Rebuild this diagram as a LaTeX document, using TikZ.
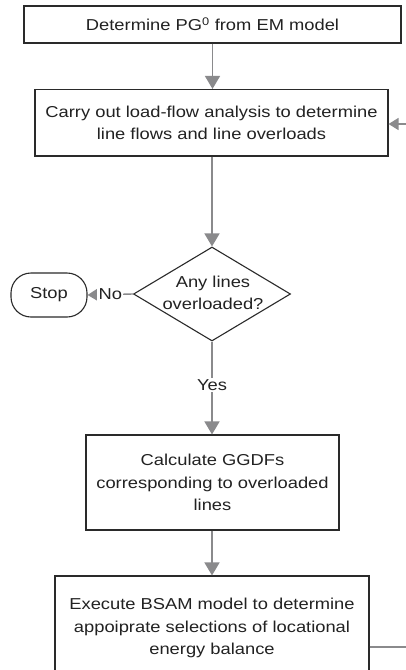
\documentclass[tikz,border=0pt]{standalone}
\usepackage{fontspec}
\setmainfont[FakeStretch=1.16]{Liberation Sans}
\usetikzlibrary{arrows.meta,shapes.geometric}
\definecolor{arrowgray}{HTML}{8A8A8C}
\definecolor{boxline}{HTML}{2A2A2A}
\definecolor{txt}{HTML}{222222}
\begin{document}
\begin{tikzpicture}[x=1pt,y=-1pt,
  every node/.style={font=\fontsize{15.8}{22.5}\selectfont, text=txt},
  procbox/.style={draw=boxline, line width=1.1pt, rectangle, align=center, inner sep=0pt},
  decbox/.style={draw=boxline, line width=1.1pt, diamond, inner sep=0pt, minimum width=157pt, minimum height=94pt},
  termbox/.style={draw=boxline, line width=1.1pt, rectangle, rounded corners=20pt, inner sep=0pt, minimum width=76pt, minimum height=44pt},
  flow/.style={draw=arrowgray, line width=1.4pt, -{Triangle[width=15pt,length=13pt]}},
  flowsmall/.style={draw=arrowgray, line width=1.4pt, -{Triangle[width=12pt,length=10pt]}},
  plain/.style={draw=arrowgray, line width=1.4pt},
  lbl/.style={fill=white, inner sep=1.5pt}
]
\useasboundingbox (0,0) rectangle (406,670);
\clip (0,0) rectangle (406,670);
\fill[white] (0,0) rectangle (406,670);

\node[procbox, minimum width=377pt, minimum height=37pt] (b1) at (212.5,24.5) {Determine PG\textsuperscript{0} from EM model};
\node[procbox, minimum width=353pt, minimum height=66.5pt] (b2) at (211.5,122.75) {Carry out load-flow analysis to determine\\line flows and line overloads};
\node[decbox] (d) at (212,294) {};
\node[align=center, inner sep=0pt] (dt) at (213,293) {Any lines\\overloaded?};
\node[termbox] (stop) at (49,295) {Stop};
\node[procbox, minimum width=253pt, minimum height=95pt] (b3) at (212.5,482.5) {Calculate GGDFs\\corresponding to overloaded\\lines};
\node[procbox, minimum width=314pt, minimum height=104pt] (b4) at (212,628) {Execute BSAM model to determine\\appoiprate selections of locational\\energy balance};

\coordinate (rin) at (406,124);
\coordinate (rout) at (406,647);

\draw[flow] (b1.south) -- (b1.south |- b2.north);
\draw[flow] (b2.south -| d.north) -- (d.north);
\draw[flowsmall] (d.west) -- node[lbl, pos=0.5] (no) {No} (stop.east);
\draw[flow] (d.south) -- node[lbl, pos=0.47] (yes) {Yes} (d.south |- b3.north);
\draw[flow] (b3.south -| b4.north) -- (b4.north);
\draw[flowsmall] (rin) -- (rin -| b2.east);
\draw[plain] (rout -| b4.east) -- (rout);
\end{tikzpicture}
\end{document}
